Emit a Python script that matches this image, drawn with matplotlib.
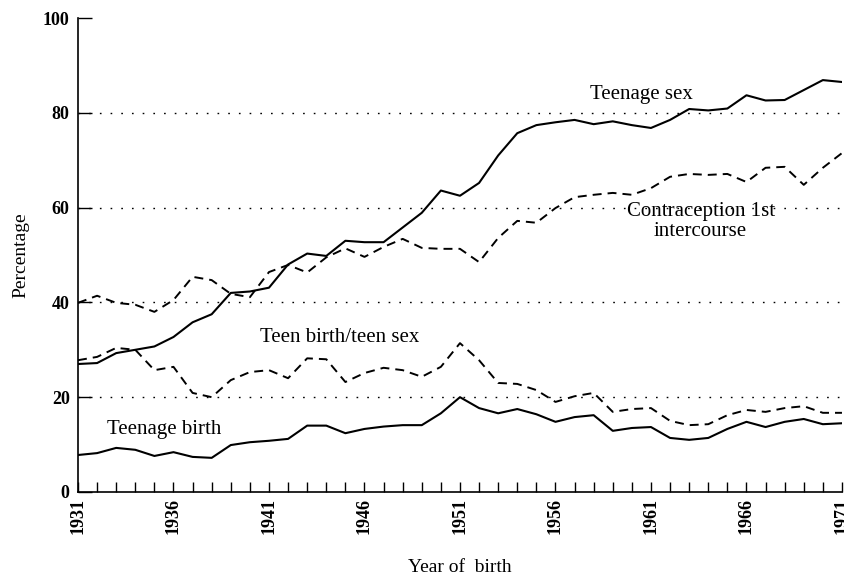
import numpy as np
import matplotlib
matplotlib.use("Agg")
import matplotlib.pyplot as plt
from matplotlib.ticker import MultipleLocator, FixedLocator

years = np.arange(1931, 1972)

# percentages
teen_sex = [27.0, 27.2, 29.3, 30.0, 30.7, 32.7, 35.8, 37.5, 42.0, 42.3,
            43.1, 48.0, 50.3, 49.8, 53.0, 52.7, 52.7, 55.8, 58.9, 63.6,
            62.5, 65.2, 71.0, 75.7, 77.4, 78.0, 78.5, 77.6, 78.2, 77.4,
            76.8, 78.5, 80.8, 80.5, 80.9, 83.7, 82.6, 82.7, 84.8, 86.9,
            86.5]
contraception = [39.9, 41.4, 39.9, 39.5, 38.0, 40.5, 45.4, 44.7, 41.8, 41.1,
                 46.4, 47.9, 46.3, 49.5, 51.4, 49.6, 51.7, 53.4, 51.5, 51.3,
                 51.3, 48.5, 53.6, 57.2, 56.8, 59.9, 62.2, 62.7, 63.1, 62.7,
                 64.1, 66.5, 67.1, 66.9, 67.1, 65.4, 68.4, 68.6, 64.8, 68.4,
                 71.5]
birth_per_sex = [27.8, 28.5, 30.4, 30.0, 25.7, 26.4, 20.9, 20.0, 23.6, 25.3,
                 25.7, 24.0, 28.2, 28.0, 23.2, 25.1, 26.2, 25.7, 24.3, 26.4,
                 31.4, 27.8, 23.0, 22.8, 21.5, 19.0, 20.2, 20.9, 16.9, 17.5,
                 17.7, 15.0, 14.1, 14.3, 16.2, 17.3, 16.9, 17.7, 18.1, 16.7,
                 16.7]
teen_birth = [7.8, 8.2, 9.3, 8.9, 7.6, 8.4, 7.4, 7.2, 9.9, 10.5,
              10.8, 11.2, 14.0, 14.0, 12.4, 13.3, 13.8, 14.1, 14.1, 16.6,
              20.0, 17.7, 16.6, 17.5, 16.4, 14.8, 15.8, 16.2, 12.9, 13.5,
              13.7, 11.4, 11.0, 11.4, 13.3, 14.8, 13.7, 14.8, 15.4, 14.3,
              14.5]

plt.rcParams['font.family'] = ['Liberation Serif', 'DejaVu Serif']

fig = plt.figure(figsize=(8.45, 5.79), dpi=100)
ax = fig.add_axes([0.0923, 0.1503, 0.9041, 0.8186])

for g in (20, 40, 60, 80):
    ax.axhline(g, color='black', lw=1.0, linestyle=(0, (1.2, 6.5)), zorder=1)

dash = (0, (4.6, 3.1))
ax.plot(years, teen_sex, color='black', lw=1.5, zorder=3)
ax.plot(years, contraception, color='black', lw=1.4, linestyle=dash, zorder=3)
ax.plot(years, birth_per_sex, color='black', lw=1.4, linestyle=dash, zorder=3)
ax.plot(years, teen_birth, color='black', lw=1.5, zorder=3)

ax.text(1960.5, 83.8, "Teenage sex", fontsize=15, ha='center', va='center')
ax.text(1963.6, 57.1, "Contraception 1st\nintercourse", fontsize=15,
        ha='center', va='center', linespacing=1.1)
ax.text(1944.7, 32.5, "Teen birth/teen sex", fontsize=15, ha='center', va='center')
ax.text(1932.5, 13.1, "Teenage birth", fontsize=15, ha='left', va='center')

ax.set_xlim(1931, 1971)
ax.set_ylim(0, 100)
ax.xaxis.set_major_locator(FixedLocator(list(range(1931, 1972, 5))))
ax.xaxis.set_minor_locator(MultipleLocator(1))
ax.yaxis.set_major_locator(MultipleLocator(20))
ax.tick_params(axis='x', which='both', direction='in', length=7, width=1,
               labelsize=13, labelrotation=90, pad=4)
ax.tick_params(axis='y', which='major', direction='in', length=10, width=1,
               labelsize=13, pad=6)
yt = ax.yaxis.get_major_ticks()
yt[0].tick1line.set_visible(False)
yt[-1].tick1line.set_visible(False)
for lab in ax.get_xticklabels() + ax.get_yticklabels():
    lab.set_fontweight('bold')

for s in ('top', 'right'):
    ax.spines[s].set_visible(False)
for s in ('left', 'bottom'):
    ax.spines[s].set_linewidth(1.2)

ax.set_ylabel("Percentage", fontsize=14, labelpad=10)
ax.set_xlabel("Year of  birth", fontsize=14, labelpad=18)

fig.savefig("out.png", dpi=100)
